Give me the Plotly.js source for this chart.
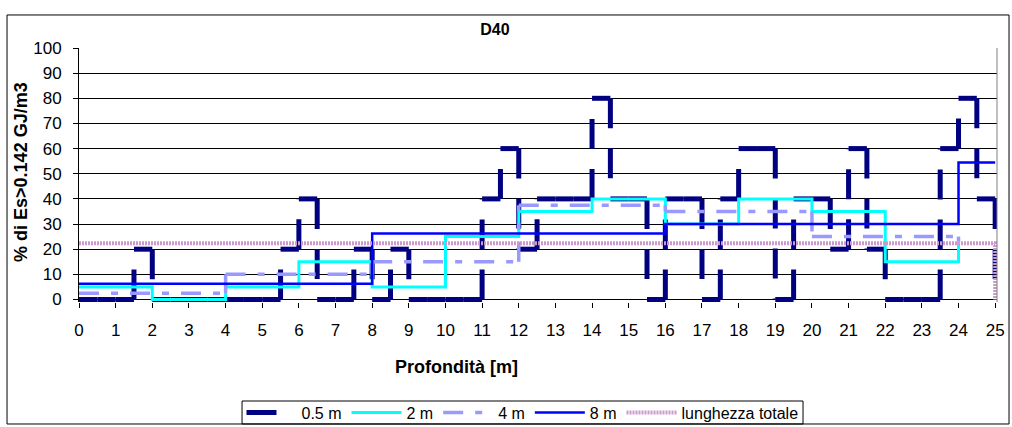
<!DOCTYPE html>
<html>
<head>
<meta charset="utf-8">
<script src="https://cdn.plot.ly/plotly-3.0.1.min.js"></script>
<style>
  html, body { margin: 0; padding: 0; background: #fff; }
  #chart { width: 1012px; height: 427px; }
</style>
</head>
<body>
<div id="chart"></div>
<script>
// depth (m) at the start of each step, and % read for each window length
var depth05 = [0, 0.5, 1, 1.5, 2, 2.5, 3, 3.5, 4, 4.5,
               5, 5.5, 6, 6.5, 7, 7.5, 8, 8.5, 9, 9.5,
               10, 10.5, 11, 11.5, 12, 12.5, 13, 13.5, 14, 14.5,
               15, 15.5, 16, 16.5, 17, 17.5, 18, 18.5, 19, 19.5,
               20, 20.5, 21, 21.5, 22, 22.5, 23, 23.5, 24, 24.5, 25];
var val05 = [0, 0, 0, 20, 0, 0, 0, 0, 0, 0,
             0, 20, 40, 0, 0, 20, 0, 20, 0, 0,
             0, 0, 40, 60, 20, 40, 40, 40, 80, 40,
             40, 0, 40, 40, 0, 40, 60, 60, 0, 40,
             40, 20, 60, 20, 0, 0, 0, 60, 80, 40, 0];
var depth2 = [0, 2, 4, 6, 8, 10, 12, 14, 16, 18, 20, 22, 24];
var val2 = [5, 0, 5, 15, 5, 25, 35, 40, 30, 40, 35, 15, 23];
var depth4 = [0, 4, 8, 12, 16, 20, 24];
var val4 = [2.5, 10, 15, 37.5, 35, 25, 23];
var depth8 = [0, 8, 16, 24, 25];
var val8 = [6.25, 26.25, 30, 54.5, 54.5];
var depthTot = [0, 25];
var valTot = [22.4, 0];
var names = ['0.5 m', '2 m', '4 m', '8 m', 'lunghezza totale'];

// Excel starts the dash pattern again at every corner, so dashed steps are cut into pieces
function stepPieces(xs, ys) {
    var px = [], py = [];
    for (var i = 0; i < xs.length - 1; i++) {
        px.push(xs[i], xs[i + 1], null);
        py.push(ys[i], ys[i], null);
        if (ys[i + 1] !== ys[i]) {
            px.push(xs[i + 1], xs[i + 1], null);
            py.push(ys[i], ys[i + 1], null);
        }
    }
    return { x: px, y: py };
}

var p05 = stepPieces(depth05, val05);
var p4 = stepPieces(depth4, val4);

var font = 'Liberation Sans, Arial, sans-serif';

var data = [{
    x: p05.x, y: p05.y, name: names[0], mode: 'lines', connectgaps: false,
    line: { color: '#000080', width: 5, dash: '30px,20px' }
}, {
    x: depth2, y: val2, name: names[1], mode: 'lines',
    line: { color: '#00FFFF', width: 3, shape: 'hv' }
}, {
    x: p4.x, y: p4.y, name: names[2], mode: 'lines', connectgaps: false,
    line: { color: '#9999FF', width: 3.5, dash: '20px,12px,7px,12px' }
}, {
    x: depth8, y: val8, name: names[3], mode: 'lines',
    line: { color: '#0000FF', width: 2.5, shape: 'hv' }
}, {
    x: depthTot, y: valTot, name: names[4], mode: 'lines',
    line: { color: '#CC99CC', width: 4, dash: '2px,1px', shape: 'hv' }
}];

var layout = {
    width: 1012,
    height: 427,
    margin: { l: 79, r: 15, t: 48, b: 125 },
    paper_bgcolor: '#fff',
    plot_bgcolor: '#fff',
    font: { family: font, size: 16, color: '#000' },
    title: {
        text: '<b>D40</b>',
        font: { family: font, size: 16, color: '#000' },
        x: 0.489, xref: 'container', xanchor: 'center',
        y: 0.931, yref: 'container', yanchor: 'middle'
    },
    xaxis: {
        range: [0, 25.05],
        tick0: 0, dtick: 1,
        showgrid: false, zeroline: false, showline: false,
        ticks: 'outside', ticklen: 5, tickcolor: '#000',
        tickfont: { size: 17 },
        ticklabelstandoff: 8,
        automargin: false
    },
    yaxis: {
        range: [-1, 100],
        tick0: 0, dtick: 10,
        showgrid: true, gridcolor: '#000', gridwidth: 1,
        zeroline: true, zerolinecolor: '#000', zerolinewidth: 1,
        showline: true, linecolor: '#000', linewidth: 1,
        ticks: 'outside', ticklen: 5, tickcolor: '#000',
        tickfont: { size: 17 },
        ticklabelstandoff: 8,
        automargin: false
    },
    annotations: [{
        // x axis title, placed off-centre as in the original
        text: '<b>Profondità [m]</b>',
        xref: 'paper', yref: 'paper', x: 0.4107, y: -0.256,
        xanchor: 'center', yanchor: 'middle', showarrow: false,
        font: { size: 18 }
    }, {
        text: '<b>% di Es>0.142 GJ/m3</b>',
        xref: 'paper', yref: 'paper', x: -0.0632, y: 0.512,
        xanchor: 'center', yanchor: 'middle', showarrow: false,
        textangle: -90,
        font: { size: 18 }
    }],
    shapes: [{
        type: 'rect', xref: 'paper', yref: 'paper',
        x0: -0.0784, x1: 1.0131, y0: -0.4803, y1: 1.13,
        line: { color: '#000', width: 1 }
    }, {
        type: 'line', xref: 'paper', yref: 'paper',
        x0: 1, x1: 1, y0: 0, y1: 1,
        line: { color: '#808080', width: 1 }
    }, {
        // legend frame
        type: 'rect', xref: 'paper', yref: 'paper',
        x0: 0.1776, x1: 0.7887, y0: -0.3898, y1: -0.4803,
        line: { color: '#000', width: 1 }
    }],
    showlegend: true,
    legend: {
        orientation: 'h',
        xref: 'container', yref: 'container',
        x: 0.5163, xanchor: 'center',
        y: 0.034, yanchor: 'middle',
        borderwidth: 0,
        bgcolor: 'rgba(0,0,0,0)',
        font: { size: 16 },
        itemwidth: 50,
        tracegroupgap: 0
    }
};

Plotly.newPlot('chart', data, layout, { displayModeBar: false, staticPlot: true });
</script>
</body>
</html>
